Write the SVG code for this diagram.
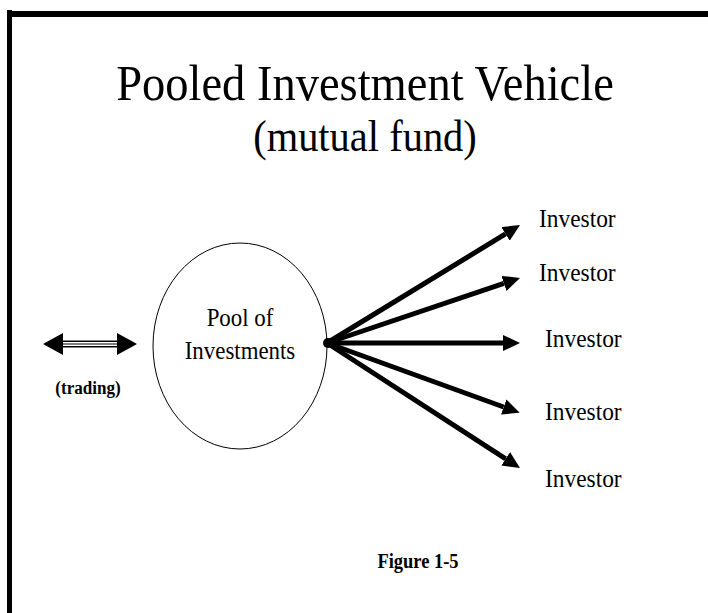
<svg xmlns="http://www.w3.org/2000/svg" width="708" height="613" viewBox="0 0 708 613">
  <style>
    text { font-family: "Liberation Serif", "Times New Roman", serif; fill: #000; }
    .title { font-size: 51px; }
    .sub { font-size: 44px; }
    .lbl { font-size: 26px; }
    .bold { font-weight: bold; }
    .mid { text-anchor: middle; }
    .conn { stroke: #000; stroke-width: 5; fill: none; marker-end: url(#ah); }
  </style>
  <defs>
    <marker id="ah" markerUnits="userSpaceOnUse" markerWidth="17" markerHeight="16" refX="0" refY="8" viewBox="0 0 17 16" orient="auto">
      <path d="M0,0 L17,8 L0,16 Z" fill="#000"/>
    </marker>
  </defs>
  <rect width="708" height="613" fill="#fff"/>
  <g id="border">
    <rect x="7" y="11" width="701" height="6" fill="#000"/>
    <rect x="7" y="10" width="5" height="603" fill="#000"/>
  </g>
  <g id="title">
    <text class="title mid" transform="translate(365,100) scale(0.912,1)">Pooled Investment Vehicle</text>
    <text class="sub mid" transform="translate(365,151) scale(0.92,1)">(mutual fund)</text>
  </g>
  <g id="pool">
    <ellipse cx="240" cy="346" rx="87" ry="103" fill="#fff" stroke="#000" stroke-width="1"/>
    <text class="lbl mid" transform="translate(240,326) scale(0.88,1)">Pool of</text>
    <text class="lbl mid" transform="translate(240,359) scale(0.88,1)">Investments</text>
  </g>
  <g id="trading">
    <line x1="62" y1="344" x2="118" y2="344" stroke="#000" stroke-width="7"/>
    <line x1="62" y1="344" x2="118" y2="344" stroke="#fff" stroke-width="4"/>
    <line x1="62" y1="344" x2="118" y2="344" stroke="#000" stroke-width="1.2"/>
    <polygon points="43,344 63,333 63,355" fill="#000"/>
    <polygon points="137,344 117,333 117,355" fill="#000"/>
    <text class="bold mid" font-size="19" transform="translate(88,394) scale(0.9,1)">(trading)</text>
  </g>
  <g id="connectors">
    <circle cx="328" cy="343" r="5" fill="#000"/>
    <line class="conn" x1="327" y1="343" x2="505.5" y2="233.9"/>
    <line class="conn" x1="327" y1="343" x2="503.9" y2="283.4"/>
    <line class="conn" x1="327" y1="343" x2="503" y2="343"/>
    <line class="conn" x1="327" y1="343" x2="503.7" y2="407.0"/>
    <line class="conn" x1="327" y1="343" x2="505.7" y2="458.8"/>
  </g>
  <g id="investor1"><text class="lbl" transform="translate(539,227) scale(0.9,1)">Investor</text></g>
  <g id="investor2"><text class="lbl" transform="translate(539,281) scale(0.9,1)">Investor</text></g>
  <g id="investor3"><text class="lbl" transform="translate(545,347) scale(0.9,1)">Investor</text></g>
  <g id="investor4"><text class="lbl" transform="translate(545,420) scale(0.9,1)">Investor</text></g>
  <g id="investor5"><text class="lbl" transform="translate(545,487) scale(0.9,1)">Investor</text></g>
  <g id="caption">
    <text class="bold mid" font-size="21" transform="translate(418,568) scale(0.88,1)">Figure 1-5</text>
  </g>
</svg>
